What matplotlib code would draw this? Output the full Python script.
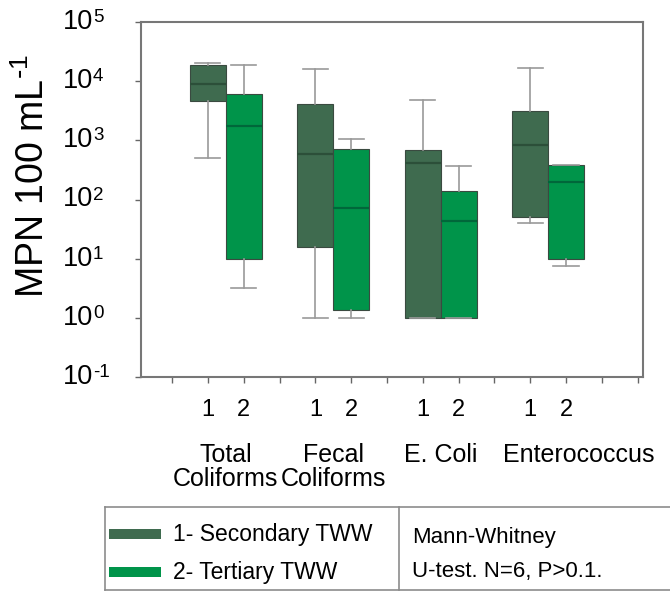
import matplotlib
matplotlib.use("Agg")
import matplotlib.pyplot as plt
from matplotlib.patches import Rectangle
from matplotlib.lines import Line2D

plt.rcParams['font.family'] = ['Liberation Sans', 'DejaVu Sans']
plt.rcParams['axes.unicode_minus'] = False

categories = ["Total\nColiforms", "Fecal\nColiforms", "E. Coli", "Enterococcus"]
label_shift = [0.0, 0.0, 0.0, 0.85]
group_labels = ["1", "2"]
series_names = ["1- Secondary TWW", "2- Tertiary TWW"]
decades = [-1, 0, 1, 2, 3, 4, 5]

# five-number summaries per category: [whisker low, q1, median, q3, whisker high]
secondary = [
    [510, 4600, 8800, 19000, 20500],
    [1.0, 16, 580, 4100, 16000],
    [1.0, 1.0, 420, 690, 4800],
    [40, 50, 820, 3160, 17000],
]
tertiary = [
    [3.2, 10, 1770, 6100, 19000],
    [1.0, 1.36, 73, 710, 1050],
    [1.0, 1.0, 43, 139, 372],
    [7.5, 10, 200, 390, 390],
]
note_lines = ["Mann-Whitney", "U-test. N=6, P>0.1."]

col_sec = "#3f6b4f"
col_ter = "#00944a"
med_sec = "#2c4f39"
med_ter = "#00673a"

fig = plt.figure(figsize=(6.7, 5.92), dpi=100)
ax = fig.add_axes([141 / 670, 1 - 377 / 592, 502 / 670, 355 / 592])


def to_stats(rows):
    return [dict(whislo=r[0], q1=r[1], med=r[2], q3=r[3], whishi=r[4]) for r in rows]


pos_sec = [2 + 3 * i for i in range(len(categories))]
pos_ter = [3 + 3 * i for i in range(len(categories))]

for rows, pos, fc, mc in [(secondary, pos_sec, col_sec, med_sec),
                          (tertiary, pos_ter, col_ter, med_ter)]:
    ax.bxp(to_stats(rows), positions=pos, widths=1.0, patch_artist=True,
           showfliers=False, capwidths=0.7,
           boxprops=dict(facecolor=fc, edgecolor="#3a4a40", linewidth=0.8),
           medianprops=dict(color=mc, linewidth=1.6),
           whiskerprops=dict(color="#9a9a9a", linewidth=1.2),
           capprops=dict(color="#9a9a9a", linewidth=1.2),
           zorder=3)

ax.set_yscale("log")
ax.set_ylim(0.1, 1e5)
ax.set_xlim(0.13, 14.15)
ax.set_yticks([10.0 ** k for k in decades])
ax.set_yticklabels([])
ax.yaxis.set_minor_locator(matplotlib.ticker.NullLocator())

# power-of-ten tick labels: base and raised exponent
for k in decades:
    ax.annotate("10", xy=(0, 10.0 ** k), xycoords=("axes fraction", "data"),
                xytext=(-34.5, 0), textcoords="offset points",
                ha="right", va="center", fontsize=19.5)
    ax.annotate(str(k), xy=(0, 10.0 ** k), xycoords=("axes fraction", "data"),
                xytext=(-34.5, 3.2), textcoords="offset points",
                ha="left", va="center", fontsize=13.5)

xt = list(range(1, 15))
xl = []
for t in xt:
    if t in pos_sec:
        xl.append(group_labels[0])
    elif t in pos_ter:
        xl.append(group_labels[1])
    else:
        xl.append("")
ax.set_xticks(xt)
ax.set_xticklabels(xl, fontsize=17)
ax.tick_params(axis="x", direction="out", length=4, width=1, color="#666666", pad=12)
ax.tick_params(axis="y", direction="out", length=4, width=1, color="#666666", pad=6)

for s in ax.spines.values():
    s.set_color("#777777")
    s.set_linewidth(1.5)

fig.text(33 / 670, 1 - 176 / 592, "MPN 100 mL$^{\\mathregular{\\text{-}1}}$",
         rotation=90, ha="center", va="center", fontsize=27)

for i, name in enumerate(categories):
    xc = (pos_sec[i] + pos_ter[i]) / 2 + label_shift[i]
    ax.text(xc, -0.185, name, transform=ax.get_xaxis_transform(),
            ha="center", va="top", fontsize=18, linespacing=1.0)

# legend panel below the plot
def fx(px):
    return px / 670


def fy(py):
    return 1 - py / 592


frame = dict(color="#8c8c8c", linewidth=1.2)
fig.add_artist(Line2D([fx(105), fx(672)], [fy(507), fy(507)], **frame))
fig.add_artist(Line2D([fx(105), fx(672)], [fy(590), fy(590)], **frame))
fig.add_artist(Line2D([fx(105), fx(105)], [fy(507), fy(590)], **frame))
fig.add_artist(Line2D([fx(399), fx(399)], [fy(507), fy(590)], **frame))

for j, (name, c) in enumerate(zip(series_names, [col_sec, col_ter])):
    yc = 534 + j * 38
    fig.add_artist(Rectangle((fx(109), fy(yc + 5)), fx(161) - fx(109), 10 / 592,
                             facecolor=c, edgecolor="none"))
    fig.text(fx(173), fy(yc), name, ha="left", va="center", fontsize=16.5)

for j, line in enumerate(note_lines):
    fig.text(fx(412), fy(537 + j * 35), line, ha="left", va="center", fontsize=16)

fig.savefig("out.png", dpi=100)
